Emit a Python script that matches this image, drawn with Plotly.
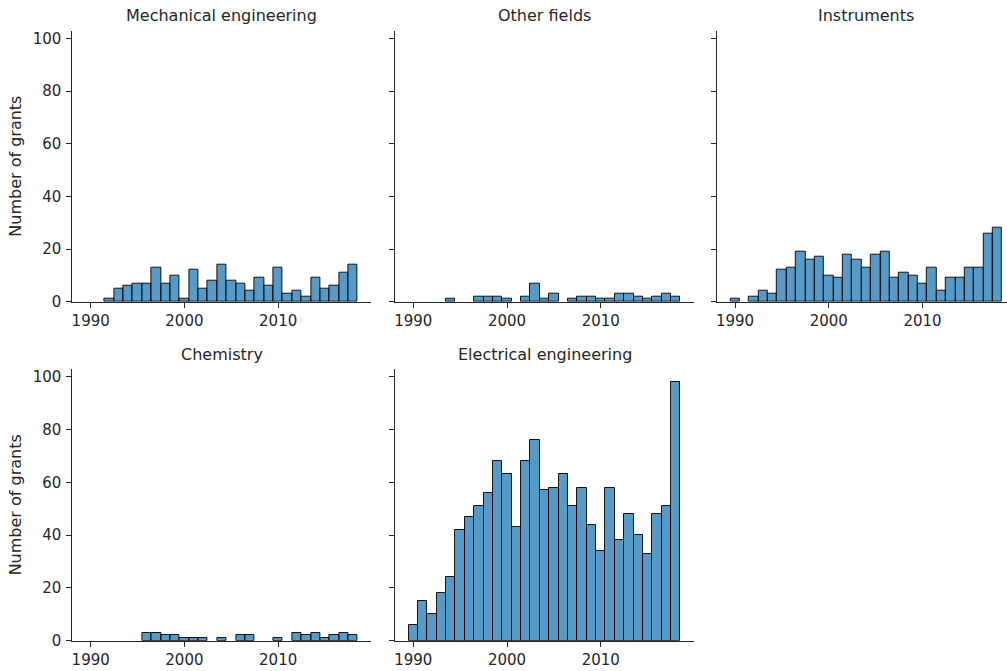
import plotly.graph_objects as go

W, H = 1007, 671

years = list(range(1990, 2019))

mechanical = [0, 0, 1, 5, 6, 7, 7, 13, 7, 10, 1, 12, 5, 8, 14, 8, 7, 4, 9, 6, 13, 3, 4, 2, 9, 5, 6, 11, 14]
other = [0, 0, 0, 0, 1, 0, 0, 2, 2, 2, 1, 0, 2, 7, 1, 3, 0, 1, 2, 2, 1, 1, 3, 3, 2, 1, 2, 3, 2]
instruments = [1, 0, 2, 4, 3, 12, 13, 19, 16, 17, 10, 9, 18, 16, 13, 18, 19, 9, 11, 10, 7, 13, 4, 9, 9, 13, 13, 26, 28]
chemistry = [0, 0, 0, 0, 0, 0, 3, 3, 2, 2, 1, 1, 1, 0, 1, 0, 2, 2, 0, 0, 1, 0, 3, 2, 3, 1, 2, 3, 2]
electrical = [6, 15, 10, 18, 24, 42, 47, 51, 56, 68, 63, 43, 68, 76, 57, 58, 63, 51, 58, 44, 34, 58, 38, 48, 40, 33, 48, 51, 98]

panels = [
    ("Mechanical engineering", mechanical),
    ("Other fields", other),
    ("Instruments", instruments),
    ("Chemistry", chemistry),
    ("Electrical engineering", electrical),
]

x_ticks = [1990, 2000, 2010]
y_ticks = [0, 20, 40, 60, 80, 100]
y_label = "Number of grants"

# layout geometry (pixels)
col_left = [72.4, 395.0, 716.8]
col_w = 299.0
row_top = [30.7, 369.0]
row_bottom = [301.7, 640.7]

x_min = 1988.05
px_per_year = col_w / 31.9
y_max = 102.9

ink = "#262626"
font_family = "DejaVu Sans, sans-serif"

fig = go.Figure()
layout = {}
annotations = []

for i, (name, counts) in enumerate(panels):
    r, c = divmod(i, 3)
    idx = i + 1
    xs = "" if idx == 1 else str(idx)
    x0 = col_left[c]
    x1 = min(x0 + col_w, W)
    x_max = x_min + (x1 - x0) / px_per_year
    xd = [x0 / W, x1 / W]
    yd = [(H - row_bottom[r]) / H, (H - row_top[r]) / H]

    bx = [y for y, v in zip(years, counts) if v > 0]
    by = [v for v in counts if v > 0]
    fig.add_trace(go.Bar(
        x=bx, y=by, width=1.0,
        marker=dict(color="rgba(31,119,180,0.75)",
                    line=dict(color="rgba(0,0,0,0.9)", width=1)),
        xaxis="x" + xs, yaxis="y" + xs, showlegend=False,
        hoverinfo="x+y",
    ))

    layout["xaxis" + xs] = dict(
        domain=xd, range=[x_min, x_max], anchor="y" + xs,
        tickvals=x_ticks, ticks="outside", ticklen=5, tickwidth=1.2,
        tickcolor=ink, showline=True, linecolor=ink, linewidth=1.2,
        showgrid=False, zeroline=False, ticklabelstandoff=0,
        automargin=False,
        tickfont=dict(family=font_family, size=15, color=ink),
    )
    layout["yaxis" + xs] = dict(
        domain=yd, range=[0, y_max], anchor="x" + xs,
        tickvals=y_ticks, ticks="outside", ticklen=5, tickwidth=1.2,
        tickcolor=ink, showline=True, linecolor=ink, linewidth=1.2,
        showgrid=False, zeroline=False, showticklabels=(c == 0),
        ticklabelstandoff=2, automargin=False,
        tickfont=dict(family=font_family, size=15, color=ink),
    )
    annotations.append(dict(
        text=name, x=(x0 + col_w / 2) / W,
        y=(H - (row_top[r] - 15)) / H, xref="paper", yref="paper",
        xanchor="center", yanchor="middle", showarrow=False,
        font=dict(family=font_family, size=16, color=ink),
    ))
    if c == 0:
        annotations.append(dict(
            text=y_label, x=15.5 / W,
            y=(H - (row_top[r] + row_bottom[r]) / 2) / H,
            xref="paper", yref="paper", textangle=-90,
            xanchor="center", yanchor="middle", showarrow=False,
            font=dict(family=font_family, size=16, color=ink),
        ))

fig.update_layout(
    width=W, height=H,
    margin=dict(l=0, r=0, t=0, b=0, autoexpand=False),
    paper_bgcolor="white", plot_bgcolor="white",
    bargap=0, annotations=annotations,
    **layout,
)

fig.write_html(
    "out.html",
    config={"displayModeBar": False},
    post_script="document.body.style.margin='0';document.body.style.overflow='hidden';",
)
